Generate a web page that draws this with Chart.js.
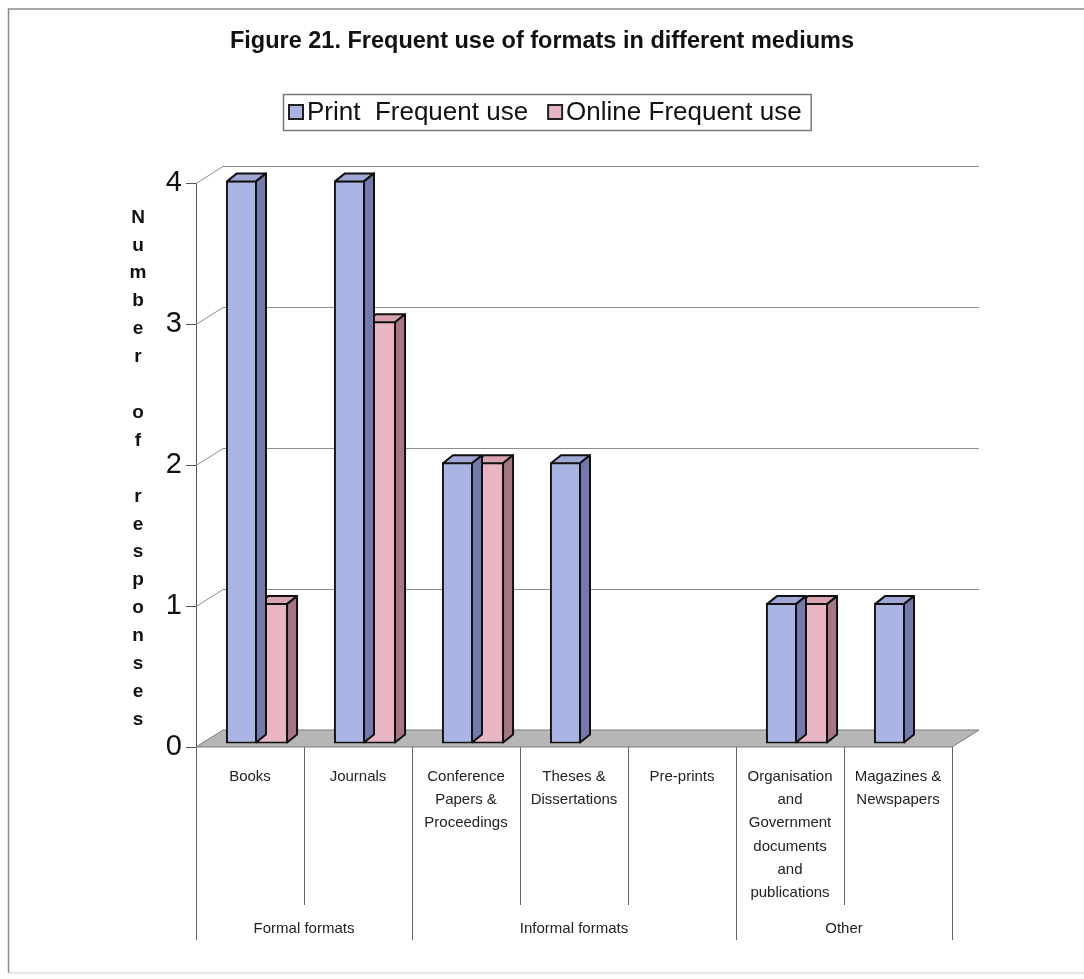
<!DOCTYPE html>
<html>
<head>
<meta charset="utf-8">
<script src="https://cdn.jsdelivr.net/npm/chart.js@4.4.1/dist/chart.umd.min.js"></script>
<style>
  html, body { margin: 0; padding: 0; background: #fff; }
</style>
</head>
<body>
<canvas id="chart" width="1084" height="979"></canvas>
<script>
// data
const categories = [
    ['Books'],
    ['Journals'],
    ['Conference', 'Papers &', 'Proceedings'],
    ['Theses &', 'Dissertations'],
    ['Pre-prints'],
    ['Organisation', 'and', 'Government', 'documents', 'and', 'publications'],
    ['Magazines &', 'Newspapers']
];
const groups = ['Formal formats', 'Informal formats', 'Other'];
const groupStarts = [0, 2, 5];      // first category index of each group
const printFrequent = [4, 4, 2, 2, 0, 1, 1];
const onlineFrequent = [1, 3, 2, 0, 0, 1, 0];
const yTicks = [0, 1, 2, 3, 4];
const seriesLabels = ['Print  Frequent use', 'Online Frequent use'];
const yTitle = 'Number of responses';

// styles
const FONT = "'Liberation Sans', Arial, sans-serif";
const frontColors = ['rgb(170,181,230)', 'rgb(232,182,194)'];
const topColors = ['rgb(160,168,214)', 'rgb(216,164,176)'];
const sideColors = ['rgb(116,121,172)', 'rgb(166,118,130)'];
const wall = { dx: 27, dy: -17 };
const barDepth = { dx: 10, dy: -8 };
const barShift = { dx: 7, dy: -3 };

Chart.defaults.font.family = FONT;

const threeD = {
    id: 'threeD',
    beforeDatasetsDraw(chart) {
        const { ctx, chartArea: a, scales: { y } } = chart;
        ctx.save();
        // floor
        ctx.beginPath();
        ctx.moveTo(a.left, a.bottom);
        ctx.lineTo(a.right, a.bottom);
        ctx.lineTo(a.right + wall.dx, a.bottom + wall.dy);
        ctx.lineTo(a.left + wall.dx, a.bottom + wall.dy);
        ctx.closePath();
        ctx.fillStyle = 'rgb(182,182,182)';
        ctx.fill();
        ctx.strokeStyle = '#7a7a7a';
        ctx.lineWidth = 1;
        ctx.stroke();
        // back wall grid
        ctx.strokeStyle = '#8e8e8e';
        yTicks.forEach(v => {
            if (v === 0) return;
            const py = Math.round(y.getPixelForValue(v)) + 0.5;
            ctx.beginPath();
            ctx.moveTo(a.left, py);
            ctx.lineTo(a.left + wall.dx, py + wall.dy);
            ctx.lineTo(a.right + wall.dx, py + wall.dy);
            ctx.stroke();
        });
        ctx.restore();
        // bars sit in the middle of the depth
        ctx.save();
        ctx.translate(barShift.dx, barShift.dy);
    },
    afterDatasetDraw(chart, args) {
        const ctx = chart.ctx;
        const ds = chart.data.datasets[args.index];
        args.meta.data.forEach((bar, i) => {
            if (!ds.data[i]) return;
            const { x, y, base, width } = bar.getProps(['x', 'y', 'base', 'width'], true);
            const l = x - width / 2 + 1, r = x + width / 2 - 1;
            const t = y + 1, b = base - 1;
            ctx.save();
            ctx.lineWidth = 2;
            ctx.lineJoin = 'round';
            ctx.strokeStyle = '#111';
            ctx.beginPath();
            ctx.moveTo(l, t);
            ctx.lineTo(r, t);
            ctx.lineTo(r + barDepth.dx, t + barDepth.dy);
            ctx.lineTo(l + barDepth.dx, t + barDepth.dy);
            ctx.closePath();
            ctx.fillStyle = topColors[args.index];
            ctx.fill();
            ctx.stroke();
            ctx.beginPath();
            ctx.moveTo(r, t);
            ctx.lineTo(r + barDepth.dx, t + barDepth.dy);
            ctx.lineTo(r + barDepth.dx, b + barDepth.dy);
            ctx.lineTo(r, b);
            ctx.closePath();
            ctx.fillStyle = sideColors[args.index];
            ctx.fill();
            ctx.stroke();
            ctx.restore();
        });
    },
    afterDatasetsDraw(chart) {
        chart.ctx.restore();
    }
};

const decorations = {
    id: 'decorations',
    beforeDraw(chart) {
        const ctx = chart.ctx;
        ctx.save();
        ctx.fillStyle = '#fff';
        ctx.fillRect(0, 0, chart.width, chart.height);
        // outer frame (left, top, bottom)
        ctx.strokeStyle = '#8a8a8a';
        ctx.lineWidth = 1.5;
        ctx.beginPath();
        ctx.moveTo(1084, 9);
        ctx.lineTo(8.5, 9);
        ctx.lineTo(8.5, 973);
        ctx.stroke();
        ctx.strokeStyle = '#dcdcdc';
        ctx.beginPath();
        ctx.moveTo(8.5, 973);
        ctx.lineTo(1084, 973);
        ctx.stroke();
        ctx.restore();
    },
    afterDraw(chart) {
        const { ctx, chartArea: a, scales: { x } } = chart;
        ctx.save();

        // category / group separators
        ctx.strokeStyle = '#666';
        ctx.lineWidth = 1;
        for (let i = 0; i <= categories.length; i++) {
            const px = Math.round(x.getPixelForValue(i - 0.5)) + 0.5;
            const isGroupEdge = i === categories.length || groupStarts.includes(i);
            ctx.beginPath();
            ctx.moveTo(px, a.bottom);
            ctx.lineTo(px, isGroupEdge ? a.bottom + 193 : a.bottom + 158);
            ctx.stroke();
        }
        ctx.fillStyle = '#222';
        ctx.font = '15px ' + FONT;
        ctx.textAlign = 'center';
        ctx.textBaseline = 'middle';
        groups.forEach((g, gi) => {
            const s = groupStarts[gi];
            const e = gi + 1 < groupStarts.length ? groupStarts[gi + 1] : categories.length;
            const x0 = x.getPixelForValue(s - 0.5), x1 = x.getPixelForValue(e - 0.5);
            ctx.fillText(g, (x0 + x1) / 2, a.bottom + 182);
        });

        // stacked y title
        ctx.font = 'bold 19px ' + FONT;
        ctx.fillStyle = '#111';
        const step = 27.9;
        [...yTitle].forEach((ch, i) => {
            if (ch !== ' ') ctx.fillText(ch, 138, a.top + 34 + i * step);
        });

        // legend
        const lx = 283, ly = 94, lh = 36;
        ctx.font = '26px ' + FONT;
        ctx.textAlign = 'left';
        let cx = lx + 6;
        const items = [];
        seriesLabels.forEach((lab, i) => {
            items.push({ lab, i, bx: cx, tx: cx + 18 });
            cx += 18 + ctx.measureText(lab).width + 20;
        });
        const lw = cx - 20 + 9 - lx;
        ctx.strokeStyle = '#7a7a7a';
        ctx.lineWidth = 1.5;
        ctx.strokeRect(lx + 0.5, ly + 0.5, lw, lh);
        items.forEach(it => {
            ctx.fillStyle = frontColors[it.i];
            ctx.fillRect(it.bx, ly + 11, 14, 14);
            ctx.strokeStyle = '#222';
            ctx.lineWidth = 2;
            ctx.strokeRect(it.bx, ly + 11, 14, 14);
            ctx.fillStyle = '#111';
            ctx.fillText(it.lab, it.tx, ly + lh / 2 + 1);
        });
        ctx.restore();
    }
};

new Chart(document.getElementById('chart'), {
    type: 'bar',
    data: {
        labels: categories,
        datasets: [
            {
                label: seriesLabels[0],
                data: printFrequent,
                backgroundColor: frontColors[0],
                borderColor: '#111',
                borderWidth: 2,
                borderSkipped: false,
                categoryPercentage: 0.575,
                barPercentage: 1.0,
                clip: false
            },
            {
                label: seriesLabels[1],
                data: onlineFrequent,
                backgroundColor: frontColors[1],
                borderColor: '#111',
                borderWidth: 2,
                borderSkipped: false,
                categoryPercentage: 0.575,
                barPercentage: 1.0,
                clip: false
            }
        ]
    },
    options: {
        responsive: false,
        animation: false,
        devicePixelRatio: 1,
        events: [],
        layout: { padding: { left: 116, right: 116, top: 0, bottom: 32 } },
        scales: {
            x: {
                offset: true,
                grid: { display: false, drawTicks: false },
                border: { display: false },
                ticks: {
                    autoSkip: false,
                    maxRotation: 0,
                    minRotation: 0,
                    padding: 18,
                    color: '#222',
                    font: { size: 15, lineHeight: 1.55 }
                },
                afterFit: s => { s.height = 200; }
            },
            y: {
                min: 0,
                max: 4,
                grid: { drawOnChartArea: false, drawTicks: true, tickLength: 10, color: '#555' },
                border: { display: true, color: '#555', width: 1 },
                ticks: {
                    stepSize: 1,
                    padding: 4,
                    color: '#111',
                    font: { size: 29 }
                },
                afterFit: s => { s.width = 80; }
            },
            // empty right-hand spacer so the title centres on the page
            spacer: {
                type: 'linear',
                position: 'right',
                grid: { display: false },
                border: { display: false },
                ticks: { display: false },
                afterFit: s => { s.width = 16; }
            }
        },
        plugins: {
            legend: { display: false },
            tooltip: { enabled: false },
            title: {
                display: true,
                text: 'Figure 21. Frequent use of formats in different mediums',
                color: '#111',
                font: { size: 23.5, weight: 'bold' },
                padding: { top: 27, bottom: 128.2 }
            }
        }
    },
    plugins: [threeD, decorations]
});
</script>
</body>
</html>
